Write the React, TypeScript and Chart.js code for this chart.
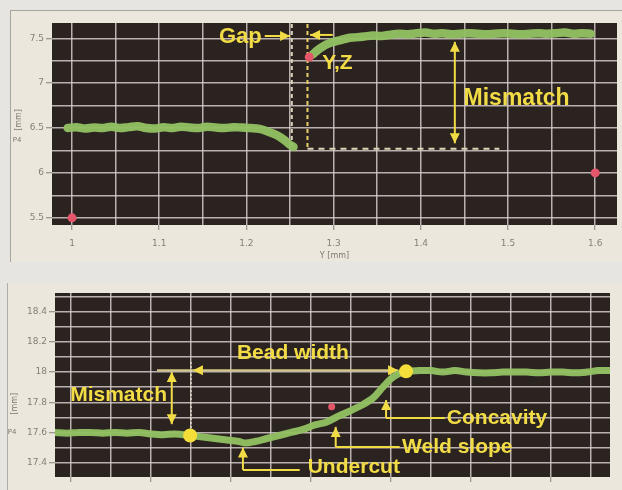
import React, { useEffect, useRef } from "react";
import { Chart, registerables } from "chart.js";

Chart.register(...registerables);

// ---------------- Top chart (Z vs Y) ----------------
const topLeftX = [0.995, 1.005, 1.015, 1.025, 1.035, 1.045, 1.055, 1.065, 1.075, 1.085, 1.095, 1.105, 1.115, 1.125, 1.135, 1.145, 1.155, 1.165, 1.175, 1.185, 1.195, 1.205, 1.215, 1.225, 1.235, 1.243, 1.249, 1.254];
const topLeftY = [6.50, 6.51, 6.495, 6.505, 6.50, 6.515, 6.50, 6.51, 6.52, 6.50, 6.495, 6.51, 6.50, 6.515, 6.505, 6.50, 6.515, 6.505, 6.50, 6.51, 6.505, 6.50, 6.49, 6.46, 6.42, 6.37, 6.32, 6.29];
const topRightX = [1.276, 1.282, 1.288, 1.294, 1.300, 1.308, 1.316, 1.325, 1.335, 1.345, 1.355, 1.365, 1.375, 1.385, 1.395, 1.405, 1.415, 1.425, 1.435, 1.445, 1.455, 1.465, 1.475, 1.485, 1.495, 1.505, 1.515, 1.525, 1.535, 1.545, 1.555, 1.565, 1.575, 1.585, 1.595];
const topRightY = [7.32, 7.37, 7.41, 7.44, 7.46, 7.48, 7.50, 7.51, 7.52, 7.53, 7.525, 7.54, 7.55, 7.545, 7.555, 7.565, 7.55, 7.555, 7.545, 7.55, 7.555, 7.55, 7.545, 7.55, 7.555, 7.55, 7.545, 7.55, 7.555, 7.55, 7.555, 7.565, 7.55, 7.555, 7.55];
const topMarkX = [1.0, 1.6, 1.272];
const topMarkY = [5.5, 6.0, 7.29];
const topXGrid = [1.0, 1.05, 1.1, 1.15, 1.2, 1.25, 1.3, 1.35, 1.4, 1.45, 1.5, 1.55, 1.6];
const topXLabels = [1.0, 1.1, 1.2, 1.3, 1.4, 1.5, 1.6];
const topYGrid = [5.5, 5.75, 6.0, 6.25, 6.5, 6.75, 7.0, 7.25, 7.5];
const topYLabels = [5.5, 6.0, 6.5, 7.0, 7.5];

// ---------------- Bottom chart ----------------
const botX = [0.980, 0.995, 1.010, 1.025, 1.040, 1.055, 1.070, 1.085, 1.100, 1.115, 1.130, 1.149, 1.165, 1.180, 1.195, 1.210, 1.218, 1.230, 1.245, 1.260, 1.275, 1.290, 1.305, 1.320, 1.335, 1.350, 1.365, 1.378, 1.390, 1.400, 1.410, 1.419, 1.435, 1.450, 1.465, 1.480, 1.495, 1.510, 1.525, 1.540, 1.555, 1.570, 1.585, 1.600, 1.615, 1.630, 1.645, 1.660, 1.675];
const botY = [17.60, 17.595, 17.60, 17.60, 17.595, 17.60, 17.595, 17.60, 17.59, 17.585, 17.59, 17.58, 17.57, 17.56, 17.55, 17.54, 17.53, 17.54, 17.56, 17.58, 17.60, 17.62, 17.65, 17.67, 17.71, 17.745, 17.785, 17.83, 17.90, 17.955, 17.99, 18.005, 18.01, 18.01, 18.00, 18.01, 18.00, 17.995, 17.995, 18.00, 18.00, 18.00, 17.995, 18.00, 18.00, 17.995, 18.00, 18.01, 18.01];
const botDotX = [1.149, 1.419];
const botDotY = [17.58, 18.005];
const botRedX = [1.326];
const botRedY = [17.77];
const botXGrid = [1.0, 1.05, 1.1, 1.15, 1.2, 1.25, 1.3, 1.35, 1.4, 1.45, 1.5, 1.55, 1.6, 1.65];
const botXLabels = [1.0, 1.1, 1.2, 1.3, 1.4, 1.5, 1.6];
const botYGrid = [17.4, 17.5, 17.6, 17.7, 17.8, 17.9, 18.0, 18.1, 18.2, 18.3, 18.4, 18.5];
const botYLabels = [17.4, 17.6, 17.8, 18.0, 18.2, 18.4];

// ---------------- styles ----------------
const TXT_FONT = '"Liberation Sans", Arial, sans-serif';
const TICK_FONT = '"DejaVu Sans", sans-serif';
const YELLOW = "#f2dc46";
const GREEN = "rgba(146,193,98,0.96)";
const GRID = "rgba(218,208,208,0.82)";
const TICKMARK = "#857f77";
const TICKTXT = "#857f77";
const PLOT_BG = "#2b2320";

type Seg = { kind: "seg"; x1: number; y1: number; x2: number; y2: number; color: string; width: number; dash?: number[]; head1?: boolean; head2?: boolean };
type Txt = { kind: "text"; x: number; y: number; text: string; size: number; align: CanvasTextAlign };
type Ann = Seg | Txt;
type Note = { text: string; yVal: number; xPx: number; rotate: boolean; size: number };

const topAnns: Ann[] = [
  { kind: "seg", x1: 1.252, y1: 7.66, x2: 1.252, y2: 6.29, color: "#ddd4bc", width: 2, dash: [4, 3] },
  { kind: "seg", x1: 1.27, y1: 7.66, x2: 1.27, y2: 6.27, color: "#e8cf6a", width: 2, dash: [4, 3] },
  { kind: "seg", x1: 1.27, y1: 6.27, x2: 1.49, y2: 6.27, color: "#ded6b4", width: 2, dash: [6, 5] },
  { kind: "seg", x1: 1.221, y1: 7.525, x2: 1.25, y2: 7.525, color: YELLOW, width: 2, head2: true },
  { kind: "seg", x1: 1.299, y1: 7.537, x2: 1.273, y2: 7.537, color: YELLOW, width: 2, head2: true },
  { kind: "seg", x1: 1.439, y1: 6.33, x2: 1.439, y2: 7.46, color: YELLOW, width: 2, head1: true, head2: true },
  { kind: "text", x: 1.193, y: 7.515, text: "Gap", size: 22, align: "center" },
  { kind: "text", x: 1.287, y: 7.224, text: "Y,Z", size: 21, align: "left" },
  { kind: "text", x: 1.449, y: 6.83, text: "Mismatch", size: 23, align: "left" },
];

const botAnns: Ann[] = [
  { kind: "seg", x1: 1.1075, y1: 18.012, x2: 1.1525, y2: 18.012, color: "#d2c682", width: 2 },
  { kind: "seg", x1: 1.1525, y1: 18.012, x2: 1.409, y2: 18.012, color: "#d2c682", width: 2, head1: true, head2: true },
  { kind: "seg", x1: 1.15, y1: 18.067, x2: 1.15, y2: 17.59, color: "#e0dcc8", width: 1.5, dash: [2, 2] },
  { kind: "seg", x1: 1.126, y1: 17.655, x2: 1.126, y2: 18.0, color: YELLOW, width: 2, head1: true, head2: true },
  { kind: "seg", x1: 1.215, y1: 17.352, x2: 1.215, y2: 17.5, color: YELLOW, width: 2, head2: true },
  { kind: "seg", x1: 1.215, y1: 17.352, x2: 1.286, y2: 17.352, color: YELLOW, width: 2 },
  { kind: "seg", x1: 1.331, y1: 17.504, x2: 1.331, y2: 17.637, color: YELLOW, width: 2, head2: true },
  { kind: "seg", x1: 1.331, y1: 17.504, x2: 1.411, y2: 17.504, color: YELLOW, width: 2 },
  { kind: "seg", x1: 1.394, y1: 17.696, x2: 1.394, y2: 17.815, color: YELLOW, width: 2, head2: true },
  { kind: "seg", x1: 1.394, y1: 17.696, x2: 1.4675, y2: 17.696, color: YELLOW, width: 2 },
  { kind: "text", x: 1.2075, y: 18.127, text: "Bead width", size: 21, align: "left" },
  { kind: "text", x: 0.999, y: 17.848, text: "Mismatch", size: 21, align: "left" },
  { kind: "text", x: 1.296, y: 17.372, text: "Undercut", size: 21, align: "left" },
  { kind: "text", x: 1.414, y: 17.504, text: "Weld slope", size: 21, align: "left" },
  { kind: "text", x: 1.47, y: 17.696, text: "Concavity", size: 21, align: "left" },
];

const topNotes: Note[] = [
  { text: "[mm]", yVal: 6.59, xPx: 9, rotate: true, size: 8 },
  { text: "P4", yVal: 6.37, xPx: 7, rotate: false, size: 7 },
];
const botNotes: Note[] = [
  { text: "[mm]", yVal: 17.79, xPx: 8, rotate: true, size: 8 },
  { text: "P4", yVal: 17.605, xPx: 5, rotate: false, size: 7 },
];

const has = (list: number[], v: number) => list.some((l) => Math.abs(l - v) < 1e-9);
const pts = (xs: number[], ys: number[]) => xs.map((x, i) => ({ x, y: ys[i] }));

function drawHead(ctx: CanvasRenderingContext2D, fx: number, fy: number, tx: number, ty: number, color: string) {
  const a = Math.atan2(ty - fy, tx - fx);
  const L = 10, W = 5;
  ctx.beginPath();
  ctx.moveTo(tx, ty);
  ctx.lineTo(tx - L * Math.cos(a) + W * Math.sin(a), ty - L * Math.sin(a) - W * Math.cos(a));
  ctx.lineTo(tx - L * Math.cos(a) - W * Math.sin(a), ty - L * Math.sin(a) + W * Math.cos(a));
  ctx.closePath();
  ctx.fillStyle = color;
  ctx.fill();
}

function drawAnns(chart: any, anns: Ann[]) {
  const { ctx, scales } = chart;
  const xs = scales.x, ys = scales.y;
  ctx.save();
  for (const a of anns) {
    if (a.kind === "seg") {
      const x1 = xs.getPixelForValue(a.x1), y1 = ys.getPixelForValue(a.y1);
      const x2 = xs.getPixelForValue(a.x2), y2 = ys.getPixelForValue(a.y2);
      ctx.beginPath();
      ctx.setLineDash(a.dash || []);
      ctx.strokeStyle = a.color;
      ctx.lineWidth = a.width;
      ctx.moveTo(x1, y1);
      ctx.lineTo(x2, y2);
      ctx.stroke();
      ctx.setLineDash([]);
      if (a.head2) drawHead(ctx, x1, y1, x2, y2, a.color === "#d2c682" ? YELLOW : a.color);
      if (a.head1) drawHead(ctx, x2, y2, x1, y1, a.color === "#d2c682" ? YELLOW : a.color);
    } else {
      ctx.font = `bold ${a.size}px ${TXT_FONT}`;
      ctx.fillStyle = YELLOW;
      ctx.textAlign = a.align;
      ctx.textBaseline = "middle";
      ctx.fillText(a.text, xs.getPixelForValue(a.x), ys.getPixelForValue(a.y));
    }
  }
  ctx.restore();
}

const plotBg = {
  id: "plotBg",
  beforeDraw(chart: any) {
    const { ctx, chartArea: a } = chart;
    ctx.save();
    ctx.fillStyle = PLOT_BG;
    ctx.fillRect(a.left, a.top, a.right - a.left, a.bottom - a.top);
    ctx.restore();
  },
};

const annPlugin = (anns: Ann[]) => ({
  id: "anns",
  beforeDatasetsDraw(chart: any) {
    drawAnns(chart, anns.filter((a) => a.kind === "seg"));
  },
  afterDatasetsDraw(chart: any) {
    drawAnns(chart, anns.filter((a) => a.kind === "text"));
  },
});

const notesPlugin = (notes: Note[]) => ({
  id: "notes",
  afterDraw(chart: any) {
    const { ctx } = chart;
    const ys = chart.scales.y;
    ctx.save();
    ctx.fillStyle = "#7d776f";
    ctx.textAlign = "center";
    ctx.textBaseline = "middle";
    for (const n of notes) {
      ctx.font = `${n.size}px ${TICK_FONT}`;
      const y = ys.getPixelForValue(n.yVal);
      if (n.rotate) {
        ctx.save();
        ctx.translate(n.xPx, y);
        ctx.rotate(-Math.PI / 2);
        ctx.fillText(n.text, 0, 0);
        ctx.restore();
      } else {
        ctx.fillText(n.text, n.xPx, y);
      }
    }
    ctx.restore();
  },
});

type Spec = {
  xMin: number; xMax: number; yMin: number; yMax: number;
  xGrid: number[]; xLabels: number[]; yGrid: number[]; yLabels: number[];
  datasets: any[]; anns: Ann[]; notes: Note[];
  padding: { top: number; right: number; left: number; bottom: number };
  yAxisWidth: number; xAxisHeight: number; xTitle: string; showXLabels: boolean;
};

function makeConfig(s: Spec): any {
  return {
    type: "scatter",
    data: { datasets: s.datasets },
    options: {
      animation: false,
      responsive: false,
      events: [],
      layout: { padding: s.padding },
      plugins: { legend: { display: false }, tooltip: { enabled: false } },
      scales: {
        x: {
          type: "linear",
          min: s.xMin,
          max: s.xMax,
          afterBuildTicks: (ax: any) => { ax.ticks = s.xGrid.map((v) => ({ value: v })); },
          afterFit: (ax: any) => { ax.height = s.xAxisHeight; },
          grid: {
            color: GRID,
            lineWidth: 1.5,
            tickLength: 5,
            tickWidth: 1,
            tickColor: (c: any) => (c.tick && has(s.xLabels, c.tick.value) ? TICKMARK : "rgba(0,0,0,0)"),
          },
          border: { display: false },
          ticks: {
            display: s.showXLabels,
            autoSkip: false,
            maxRotation: 0,
            padding: 8,
            color: TICKTXT,
            font: { family: TICK_FONT, size: 9 },
            callback: (v: any) => (has(s.xLabels, Number(v)) ? String(v) : ""),
          },
          title: {
            display: !!s.xTitle,
            text: s.xTitle,
            color: "#7d776f",
            font: { family: TICK_FONT, size: 8 },
            padding: { top: 0, bottom: 1 },
          },
        },
        y: {
          type: "linear",
          min: s.yMin,
          max: s.yMax,
          afterBuildTicks: (ax: any) => { ax.ticks = s.yGrid.map((v) => ({ value: v })); },
          afterFit: (ax: any) => { ax.width = s.yAxisWidth; },
          grid: {
            color: GRID,
            lineWidth: 1.5,
            tickLength: 6,
            tickWidth: 1,
            tickColor: (c: any) => (c.tick && has(s.yLabels, c.tick.value) ? TICKMARK : "rgba(0,0,0,0)"),
          },
          border: { display: false },
          ticks: {
            autoSkip: false,
            padding: 2,
            color: TICKTXT,
            font: { family: TICK_FONT, size: 9 },
            callback: (v: any) => (has(s.yLabels, Number(v)) ? String(v) : ""),
          },
        },
      },
    },
    plugins: [plotBg, annPlugin(s.anns), notesPlugin(s.notes)],
  };
}

const lineStyle = (w: number) => ({
  showLine: true,
  borderColor: GREEN,
  borderWidth: w,
  pointRadius: 0,
  tension: 0.35,
  borderCapStyle: "round",
  borderJoinStyle: "round",
});

const topSpec: Spec = {
  xMin: 0.977, xMax: 1.625, yMin: 5.42, yMax: 7.67,
  xGrid: topXGrid, xLabels: topXLabels, yGrid: topYGrid, yLabels: topYLabels,
  datasets: [
    { data: pts(topMarkX, topMarkY), pointRadius: 4.5, pointBackgroundColor: "#e4576a", pointBorderWidth: 0, showLine: false },
    { data: pts(topLeftX, topLeftY), ...lineStyle(8.5) },
    { data: pts(topRightX, topRightY), ...lineStyle(8.5) },
  ],
  anns: topAnns, notes: topNotes,
  padding: { top: 13, right: 5, left: 0, bottom: 0 },
  yAxisWidth: 42, xAxisHeight: 37, xTitle: "Y [mm]", showXLabels: true,
};

const botSpec: Spec = {
  xMin: 0.98, xMax: 1.674, yMin: 17.305, yMax: 18.524,
  xGrid: botXGrid, xLabels: botXLabels, yGrid: botYGrid, yLabels: botYLabels,
  datasets: [
    { data: pts(botRedX, botRedY), pointRadius: 3.5, pointBackgroundColor: "#e4576a", pointBorderWidth: 0, showLine: false },
    { data: pts(botDotX, botDotY), pointRadius: 7, pointBackgroundColor: "#f4df3a", pointBorderWidth: 0, showLine: false },
    { data: pts(botX, botY), ...lineStyle(7) },
  ],
  anns: botAnns, notes: botNotes,
  padding: { top: 10, right: 12, left: 0, bottom: 0 },
  yAxisWidth: 48, xAxisHeight: 13, xTitle: "", showXLabels: false,
};

function ChartCanvas({ spec, left, top, width, height }: { spec: Spec; left: number; top: number; width: number; height: number }) {
  const ref = useRef<HTMLCanvasElement | null>(null);
  useEffect(() => {
    if (!ref.current) return;
    const chart = new Chart(ref.current, makeConfig(spec));
    return () => chart.destroy();
  }, [spec]);
  return (
    <canvas
      ref={ref}
      width={width}
      height={height}
      style={{ position: "absolute", left, top, width, height }}
    />
  );
}

export default function App() {
  return (
    <div
      style={{
        position: "fixed",
        left: 0,
        top: 0,
        width: 622,
        height: 490,
        overflow: "hidden",
        background: "#e6e5e1",
      }}
    >
      <div style={{ position: "absolute", left: 10, top: 10, width: 612, height: 252, background: "#ece7dc", borderLeft: "1px solid #a9a59d", borderTop: "1px solid #a9a59d", boxSizing: "border-box" }} />
      <div style={{ position: "absolute", left: 7, top: 283, width: 615, height: 207, background: "#ece7dc", borderLeft: "1px solid #b0aca4", boxSizing: "border-box" }} />
      <ChartCanvas spec={topSpec} left={10} top={10} width={612} height={252} />
      <ChartCanvas spec={botSpec} left={7} top={283} width={615} height={207} />
    </div>
  );
}
